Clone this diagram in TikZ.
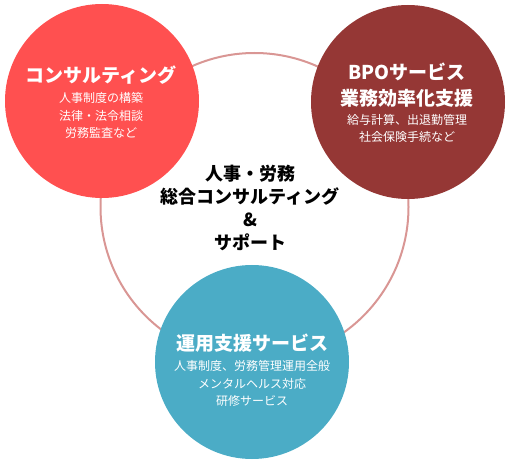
\documentclass[tikz,border=0pt]{standalone}
\usepackage{fontspec}
\setmainfont{Noto Sans CJK JP}
\definecolor{cred}{HTML}{FF5050}
\definecolor{cdark}{HTML}{953735}
\definecolor{cteal}{HTML}{4BACC6}
\definecolor{cring}{HTML}{D99694}
\tikzset{
  bigdisc/.style={circle, inner sep=0pt, minimum size=194pt, draw=none},
  ttl/.style={text=white, font=\fontsize{19}{24}\selectfont\bfseries, inner sep=0pt},
  sub/.style={text=white, font=\fontsize{12}{17.5}\selectfont, align=center, inner sep=0pt},
  ctr/.style={text=black, font=\fontsize{18}{23}\selectfont\bfseries, align=center, inner sep=0pt}
}
\begin{document}
\begin{tikzpicture}[x=1pt,y=-1pt]
\useasboundingbox (0,0) rectangle (509,465);
\node[circle, draw=cring, line width=2pt, minimum size=308pt, inner sep=0pt] (ring) at (254.5,207) {};
\node[bigdisc, fill=cred] (c1) at (102,101) {};
\node[bigdisc, fill=cdark] (c2) at (408,102) {};
\node[bigdisc, fill=cteal] (c3) at (252,362) {};
\node[ttl] (t1) at (101,75) {コンサルティング};
\node[sub] (s1) at (101,115.5) {人事制度の構築\\法律・法令相談\\労務監査など};
\node[ttl] (t2a) at (407,72) {BPOサービス};
\node[ttl] (t2b) at (407,98) {業務効率化支援};
\node[sub] (s2) at (407,128.5) {給与計算、出退勤管理\\社会保険手続など};
\node[ttl] (t3) at (252,343) {運用支援サービス};
\node[sub] (s3) at (252,383.5) {人事制度、労務管理運用全般\\メンタルヘルス対応\\研修サービス};
\node[ctr] (m) at (250,207.5) {人事・労務\\総合コンサルティング\\\&\\サポート};
\end{tikzpicture}
\end{document}
